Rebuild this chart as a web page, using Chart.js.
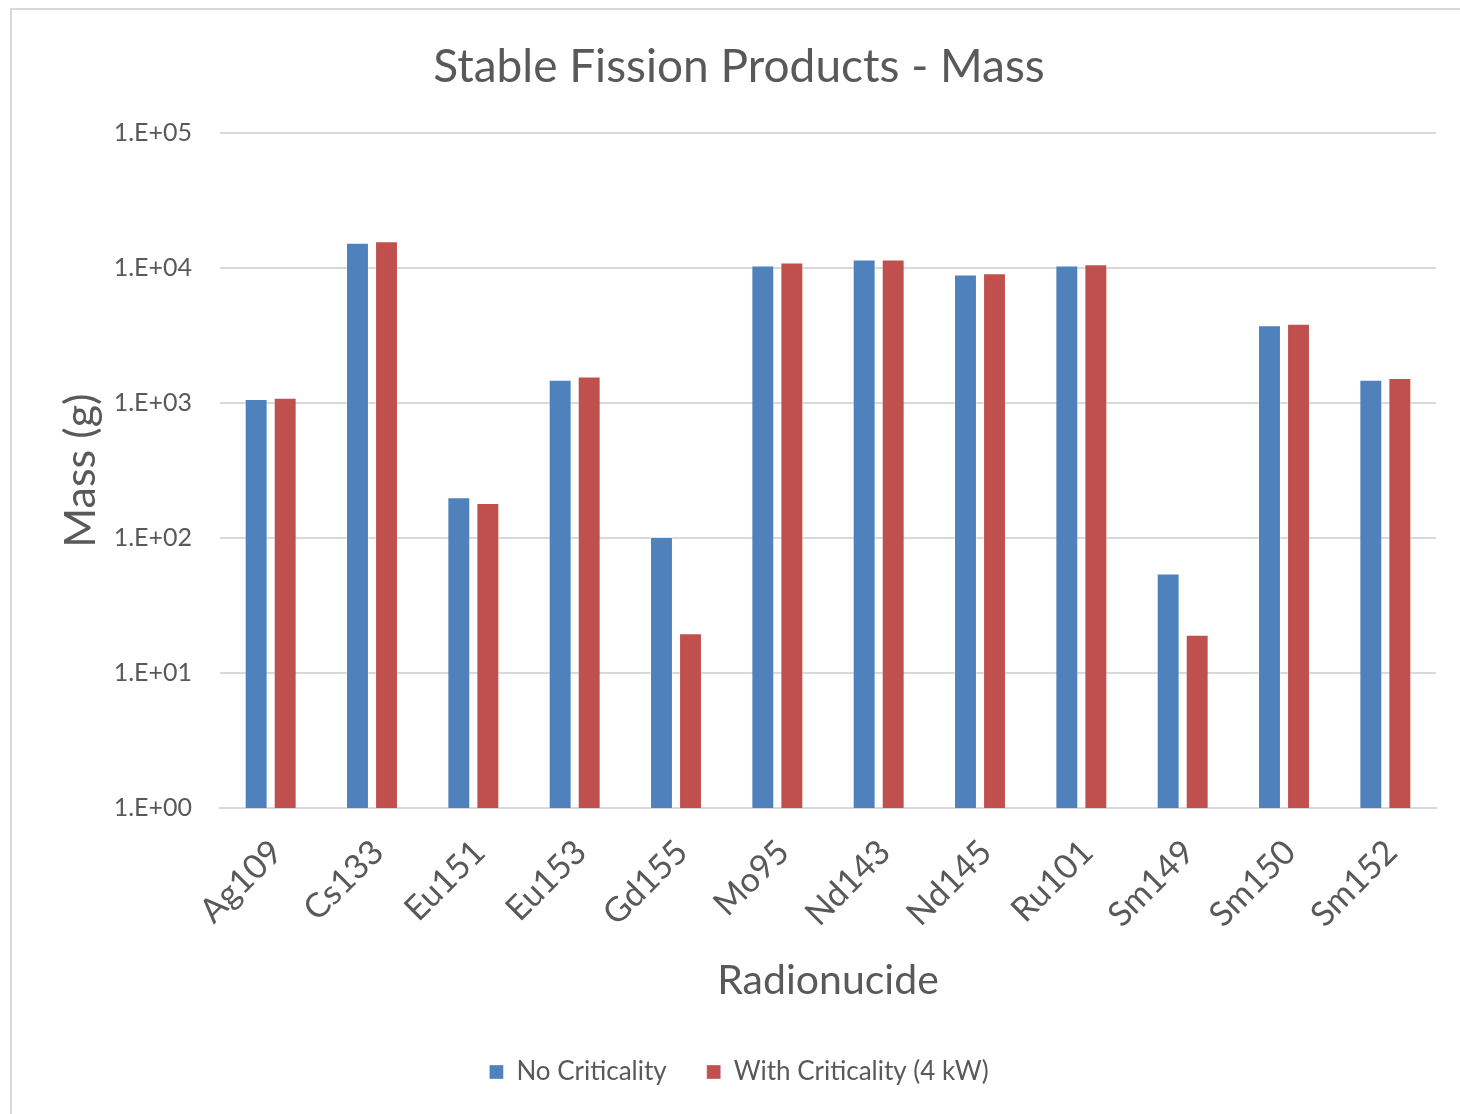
<!DOCTYPE html>
<html><head><meta charset="utf-8">
<script src="https://cdn.jsdelivr.net/npm/chart.js@4.4.1/dist/chart.umd.min.js"></script>
<style>
html,body{margin:0;padding:0;background:#fff;width:1460px;height:1114px;overflow:hidden}
#frame{position:absolute;left:10px;top:8px;width:1460px;height:1120px;border:2px solid #d9d9d9;box-sizing:border-box}
#wrap{position:absolute;left:0;top:0;width:1460px;height:1114px}
</style></head>
<body>
<div id="frame"></div>
<div id="wrap"><canvas id="c" width="1460" height="1114"></canvas></div>
<script>
const categories = ['Ag109','Cs133','Eu151','Eu153','Gd155','Mo95','Nd143','Nd145','Ru101','Sm149','Sm150','Sm152'];
const noCriticality = [1071, 15420, 201, 1489, 102, 10450, 11580, 8960, 10450, 54.7, 3770, 1489];
const withCriticality = [1095, 15860, 182, 1577, 19.7, 11010, 11580, 9180, 10700, 19.2, 3875, 1535];
const tickValues = [1, 10, 100, 1000, 10000, 100000];
const tickLabels = ['1.E+00','1.E+01','1.E+02','1.E+03','1.E+04','1.E+05'];

const FONT = 'Lato, "Open Sans", sans-serif';
const TXT = '#595959';
Chart.defaults.font.family = FONT;

new Chart(document.getElementById('c').getContext('2d'), {
  type: 'bar',
  data: {
    labels: categories,
    datasets: [
      { label: 'No Criticality', data: noCriticality, backgroundColor: '#4F81BD', borderColor: 'rgba(255,255,255,0.35)', borderWidth: 1, categoryPercentage: 0.573, barPercentage: 0.79 },
      { label: 'With Criticality (4 kW)', data: withCriticality, backgroundColor: '#C0504D', borderColor: 'rgba(255,255,255,0.35)', borderWidth: 1, categoryPercentage: 0.573, barPercentage: 0.79 }
    ]
  },
  options: {
    responsive: false,
    animation: false,
    layout: { padding: { left: 42, right: 24, top: 0, bottom: 19 } },
    plugins: {
      title: { display: true, text: 'Stable Fission Products - Mass', color: TXT,
        font: { family: FONT, size: 46, weight: 'normal' }, padding: { top: 40, bottom: 38 } },
      legend: { position: 'bottom', labels: { boxWidth: 14, boxHeight: 14, color: TXT,
        font: { family: FONT, size: 26 }, padding: 40 } },
      tooltip: { enabled: false }
    },
    scales: {
      x: {
        grid: { display: false },
        border: { display: true, color: '#d9d9d9', width: 2 },
        ticks: { minRotation: 45, maxRotation: 45, color: TXT, font: { family: FONT, size: 34 }, padding: 16, labelOffset: 6 },
        title: { display: true, text: 'Radionucide', color: TXT, font: { family: FONT, size: 41 }, padding: { top: 0, bottom: 14 } },
        afterFit(s) { s.height = 211; }
      },
      y: {
        type: 'logarithmic',
        min: 1, max: 100000,
        border: { display: false },
        grid: { color: '#d9d9d9', lineWidth: 2, drawTicks: false },
        afterBuildTicks(s) { s.ticks = tickValues.map(v => ({ value: v })); },
        ticks: { padding: 28, color: TXT, font: { family: FONT, size: 25 },
          callback: (v, i) => tickLabels[i] },
        title: { display: true, text: 'Mass (g)', color: TXT, font: { family: FONT, size: 43 }, padding: { top: 13, bottom: 0 } },
        afterFit(s) { s.width = 178; }
      }
    }
  }
});
</script>
</body></html>
